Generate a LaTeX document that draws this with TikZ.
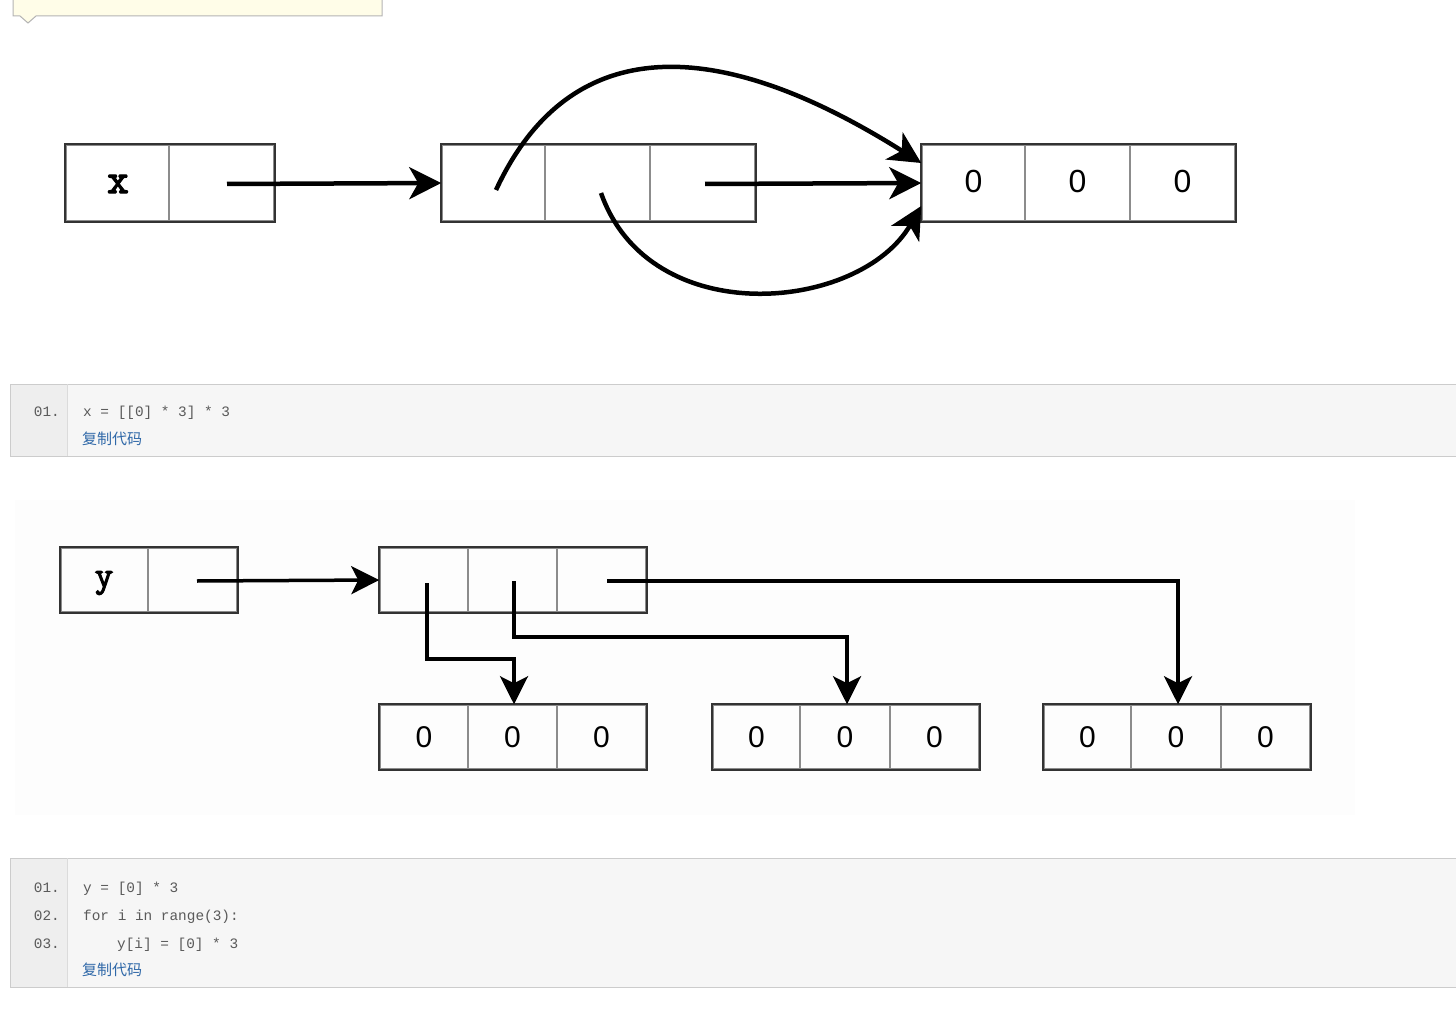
\documentclass[tikz,border=0pt]{standalone}
\usepackage{fontspec}
\setmainfont{Liberation Sans}
\setmonofont{Liberation Mono}
\newfontfamily\cjkfont{Noto Sans CJK SC}
\newfontfamily\courbold{Latin Modern Mono}[FakeBold=3]
\usetikzlibrary{arrows.meta,calc}
\definecolor{tipbg}{HTML}{FFFDE8}
\definecolor{tipbd}{HTML}{B4B4B4}
\definecolor{codebg}{HTML}{F6F6F6}
\definecolor{gutbg}{HTML}{EEEEEE}
\definecolor{codebd}{HTML}{CCCCCC}
\definecolor{codefg}{HTML}{5A5A5A}
\definecolor{linkfg}{HTML}{2F68A8}
\definecolor{cellbd}{HTML}{8C8C8C}
\definecolor{outerbd}{HTML}{333333}
\definecolor{imgbg}{HTML}{FDFDFD}
\tikzset{
  cell/.style={draw=cellbd, line width=1.5pt, inner sep=0pt, font=\fontsize{32}{36}\selectfont},
  bcell/.style={cell, font=\fontsize{30}{34}\selectfont},
  outer/.style={draw=outerbd, line width=2pt},
  varname/.style={inner sep=0pt, font=\courbold\fontsize{42}{44}\selectfont},
  arrtop/.style={line width=4.5pt, -{Stealth[length=32pt,width=32pt,inset=9pt]}},
  arrbot/.style={line width=3.5pt, -{Stealth[length=28pt,width=28pt,inset=7pt]}},
  lnum/.style={anchor=base east, text=codefg, font=\ttfamily\fontsize{14.4}{16}\selectfont, inner sep=0pt},
  code/.style={anchor=base west, text=codefg, font=\ttfamily\fontsize{14.4}{16}\selectfont, inner sep=0pt},
  link/.style={anchor=base west, text=linkfg, font=\cjkfont\fontsize{15}{17}\selectfont, inner sep=0pt},
}
\begin{document}
\begin{tikzpicture}[x=1pt,y=-1pt]
\useasboundingbox (0,0) rectangle (1456,1016);
\fill[white] (0,0) rectangle (1456,1016);
% tooltip
\draw[fill=tipbg, draw=tipbd, line width=1pt] (13,-3) -- (13,16) -- (20,16) -- (28,23) -- (36,16) -- (382,16) -- (382,-3);
% ---------- top diagram ----------
\node[cell, minimum width=103pt, minimum height=76pt] (x1) at (117.5,183) {};
\node[cell, minimum width=105pt, minimum height=76pt] (x2) at (221.5,183) {};
\draw[outer] (x1.north west) rectangle (x2.south east);
\node[varname] (xlab) at (118,184) {x};
\node[cell, minimum width=103pt, minimum height=76pt] (m1) at (493.5,183) {};
\node[cell, minimum width=105pt, minimum height=76pt] (m2) at (597.5,183) {};
\node[cell, minimum width=105pt, minimum height=76pt] (m3) at (702.5,183) {};
\draw[outer] (m1.north west) rectangle (m3.south east);
\node[cell, minimum width=103pt, minimum height=76pt] (r1) at (973.5,183) {};
\node[cell, minimum width=105pt, minimum height=76pt] (r2) at (1077.5,183) {};
\node[cell, minimum width=105pt, minimum height=76pt] (r3) at (1182.5,183) {};
\draw[outer] (r1.north west) rectangle (r3.south east);
\node[inner sep=0pt, font=\fontsize{32}{36}\selectfont] (r1t) at (973.5,181) {0};
\node[inner sep=0pt, font=\fontsize{32}{36}\selectfont] (r2t) at (1077.5,181) {0};
\node[inner sep=0pt, font=\fontsize{32}{36}\selectfont] (r3t) at (1182.5,181) {0};
\coordinate (xs) at (227,184);
\coordinate (c1s) at (496,190);
\coordinate (c2s) at (601,193);
\coordinate (ms) at (705,184);
\draw[arrtop] (xs) -- (m1.west);
\draw[arrtop] (ms) -- (r1.west);
\draw[arrtop] (c1s) .. controls (568,35) and (712,31) .. ([yshift=20pt]r1.west);
\draw[arrtop] (c2s) .. controls (650,332) and (860,312) .. ([yshift=-23pt]r1.west);
% ---------- code block 1 ----------
\fill[codebg] (10,384) rectangle (1460,456);
\fill[gutbg] (10,384) rectangle (67,456);
\draw[codebd, line width=1pt] (1460,384) -- (10,384) -- (10,456) -- (1460,456);
\draw[codebd!70!white, line width=1pt] (67,384) -- (67,456);
\node[lnum] (n11) at (60,416) {01.};
\node[code] (k11) at (83,416) {x = [[0] * 3] * 3};
\node[link] (l1) at (82,444) {复制代码};
% ---------- bottom diagram ----------
\fill[imgbg] (15,500) rectangle (1355,815);
\node[cell, minimum width=87pt, minimum height=64pt] (y1) at (104.5,580) {};
\node[cell, minimum width=89pt, minimum height=64pt] (y2) at (192.5,580) {};
\draw[outer] (y1.north west) rectangle (y2.south east);
\node[varname, font=\courbold\fontsize{36}{40}\selectfont] (ylab) at (104,583) {y};
\node[bcell, minimum width=88pt, minimum height=64pt] (a1) at (424,580) {};
\node[bcell, minimum width=89pt, minimum height=64pt] (a2) at (512.5,580) {};
\node[bcell, minimum width=89pt, minimum height=64pt] (a3) at (601.5,580) {};
\draw[outer] (a1.north west) rectangle (a3.south east);
\node[bcell, minimum width=88pt, minimum height=64pt] (A1) at (424,737) {0};
\node[bcell, minimum width=89pt, minimum height=64pt] (A2) at (512.5,737) {0};
\node[bcell, minimum width=89pt, minimum height=64pt] (A3) at (601.5,737) {0};
\draw[outer] (A1.north west) rectangle (A3.south east);
\node[bcell, minimum width=87pt, minimum height=64pt] (B1) at (756.5,737) {0};
\node[bcell, minimum width=90pt, minimum height=64pt] (B2) at (845,737) {0};
\node[bcell, minimum width=89pt, minimum height=64pt] (B3) at (934.5,737) {0};
\draw[outer] (B1.north west) rectangle (B3.south east);
\node[bcell, minimum width=87pt, minimum height=64pt] (C1) at (1087.5,737) {0};
\node[bcell, minimum width=90pt, minimum height=64pt] (C2) at (1176,737) {0};
\node[bcell, minimum width=89pt, minimum height=64pt] (C3) at (1265.5,737) {0};
\draw[outer] (C1.north west) rectangle (C3.south east);
\coordinate (ys) at (197,581);
\coordinate (s1) at (427,583);
\coordinate (s2) at (514,581);
\coordinate (s3) at (607,581);
\draw[arrbot] (ys) -- (a1.west);
\draw[arrbot] (s1) -- (427,659) -| ([xshift=1.5pt]A2.north);
\draw[arrbot] (s2) -- (514,637) -| ([xshift=2pt]B2.north);
\draw[arrbot] (s3) -| ([xshift=2pt]C2.north);
% ---------- code block 2 ----------
\fill[codebg] (10,858) rectangle (1460,987);
\fill[gutbg] (10,858) rectangle (67,987);
\draw[codebd, line width=1pt] (1460,858) -- (10,858) -- (10,987) -- (1460,987);
\draw[codebd!70!white, line width=1pt] (67,858) -- (67,987);
\node[lnum] (n21) at (60,892) {01.};
\node[lnum] (n22) at (60,920) {02.};
\node[lnum] (n23) at (60,948) {03.};
\node[code] (k21) at (83,892) {y = [0] * 3};
\node[code] (k22) at (83,920) {for i in range(3):};
\node[code] (k23) at (117,948) {y[i] = [0] * 3};
\node[link] (l2) at (82,975) {复制代码};
\end{tikzpicture}
\end{document}
